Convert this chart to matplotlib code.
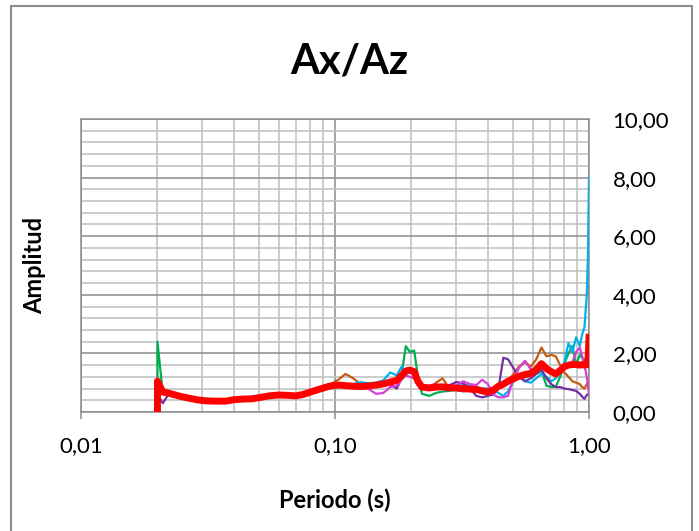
import matplotlib
matplotlib.use("Agg")
import matplotlib.pyplot as plt
import matplotlib.ticker as mticker
from matplotlib.patches import Rectangle

plt.rcParams["font.family"] = ["Lato", "DejaVu Sans"]

# periods (s) shared by all series; first point repeated for the spike at 0.02 s
periodo = [0.02, 0.02, 0.021, 0.022, 0.0235, 0.025, 0.027, 0.029, 0.031, 0.034,
           0.037, 0.040, 0.043, 0.047, 0.051, 0.055, 0.060, 0.065, 0.070, 0.075,
           0.080, 0.087, 0.095, 0.103, 0.110, 0.118, 0.126, 0.135, 0.145, 0.155,
           0.165, 0.175, 0.183, 0.190, 0.197, 0.205, 0.212, 0.22, 0.235, 0.25,
           0.265, 0.28, 0.30, 0.32, 0.34, 0.36, 0.38, 0.40, 0.42, 0.44,
           0.46, 0.48, 0.50, 0.53, 0.56, 0.59, 0.62, 0.65, 0.68, 0.71,
           0.74, 0.77, 0.80, 0.83, 0.86, 0.89, 0.92, 0.94, 0.96, 0.98,
           0.99, 1.0]

verde = [0.30, 2.40, 0.62, 0.60, 0.55, 0.50, 0.44, 0.40, 0.36, 0.34,
         0.33, 0.40, 0.40, 0.42, 0.48, 0.50, 0.55, 0.52, 0.50, 0.62,
         0.72, 0.80, 0.86, 0.88, 0.87, 0.85, 0.86, 0.88, 0.90, 0.95,
         1.00, 1.05, 1.30, 2.25, 2.05, 2.10, 1.20, 0.62, 0.55, 0.65,
         0.70, 0.72, 0.75, 0.70, 0.75, 0.72, 0.70, 0.75, 0.72, 0.80,
         0.95, 1.05, 1.15, 1.20, 1.18, 1.25, 1.30, 1.40, 0.90, 0.85,
         0.86, 1.20, 1.65, 2.00, 2.25, 1.60, 1.95, 1.85, 1.70, 2.00,
         1.90, 1.85]

naranja = [0.55, 0.70, 0.72, 0.68, 0.60, 0.53, 0.47, 0.42, 0.39, 0.38,
           0.38, 0.43, 0.45, 0.47, 0.52, 0.56, 0.60, 0.58, 0.57, 0.62,
           0.70, 0.80, 0.92, 1.10, 1.30, 1.15, 0.95, 0.90, 0.93, 0.97,
           1.03, 1.08, 1.22, 1.38, 1.40, 1.35, 1.02, 0.86, 0.84, 1.00,
           1.15, 0.85, 0.84, 0.82, 0.80, 0.79, 0.74, 0.70, 0.76, 0.85,
           0.95, 1.10, 1.25, 1.55, 1.70, 1.55, 1.80, 2.20, 1.90, 1.95,
           1.90, 1.60, 1.35, 1.20, 1.05, 1.00, 0.95, 0.85, 0.80, 0.95,
           0.95, 1.00]

celeste = [0.60, 0.75, 0.78, 0.72, 0.62, 0.55, 0.48, 0.42, 0.38, 0.37,
           0.38, 0.46, 0.48, 0.52, 0.55, 0.62, 0.63, 0.60, 0.58, 0.65,
           0.72, 0.82, 0.95, 0.96, 0.92, 0.95, 1.02, 0.98, 1.00, 1.08,
           1.35, 1.25, 1.55, 1.30, 1.35, 1.30, 0.95, 0.85, 0.82, 0.88,
           0.92, 0.90, 0.88, 0.92, 0.90, 0.85, 0.80, 0.80, 0.78, 0.65,
           0.55, 0.70, 1.00, 1.20, 1.05, 1.00, 1.15, 1.30, 1.20, 1.05,
           1.15, 1.35, 1.70, 2.35, 2.05, 2.55, 2.25, 2.65, 2.90, 4.00,
           5.30, 8.00]

morado = [0.40, 0.60, 0.30, 0.58, 0.53, 0.47, 0.42, 0.37, 0.34, 0.33,
          0.34, 0.38, 0.41, 0.42, 0.46, 0.52, 0.55, 0.53, 0.51, 0.56,
          0.64, 0.74, 0.84, 0.88, 0.86, 0.84, 0.83, 0.85, 0.87, 0.90,
          0.95, 0.80, 1.15, 1.35, 1.38, 1.30, 0.98, 0.80, 0.78, 0.82,
          0.84, 0.90, 1.02, 0.98, 0.80, 0.55, 0.50, 0.55, 0.60, 0.80,
          1.85, 1.80, 1.55, 1.20, 1.05, 1.15, 1.30, 1.45, 1.15, 0.95,
          0.85, 0.85, 0.80, 0.78, 0.75, 0.72, 0.62, 0.52, 0.45, 0.58,
          0.60, 0.62]

magenta = [0.45, 0.65, 0.62, 0.60, 0.54, 0.48, 0.42, 0.38, 0.35, 0.34,
           0.35, 0.40, 0.42, 0.44, 0.48, 0.53, 0.56, 0.54, 0.52, 0.57,
           0.65, 0.75, 0.85, 0.90, 0.88, 0.85, 0.84, 0.80, 0.62, 0.65,
           0.85, 0.90, 1.10, 1.25, 1.20, 1.15, 0.90, 0.85, 0.90, 0.95,
           0.85, 0.82, 0.90, 1.05, 0.95, 0.92, 1.10, 0.95, 0.60, 0.50,
           0.50, 0.55, 1.05, 1.50, 1.75, 1.45, 1.35, 1.50, 1.40, 1.30,
           1.35, 1.40, 1.50, 1.60, 1.70, 2.05, 2.20, 1.90, 1.60, 1.20,
           0.90, 0.62]

promedio = [0.05, 1.05, 0.68, 0.65, 0.58, 0.52, 0.46, 0.41, 0.38, 0.37,
            0.37, 0.42, 0.44, 0.45, 0.50, 0.55, 0.58, 0.57, 0.55, 0.60,
            0.68, 0.78, 0.88, 0.92, 0.90, 0.88, 0.87, 0.89, 0.92, 0.96,
            1.02, 1.08, 1.25, 1.40, 1.43, 1.38, 1.05, 0.85, 0.82, 0.85,
            0.86, 0.83, 0.82, 0.80, 0.78, 0.77, 0.72, 0.68, 0.75, 0.88,
            0.95, 1.05, 1.12, 1.22, 1.28, 1.32, 1.45, 1.65, 1.48, 1.38,
            1.30, 1.42, 1.55, 1.60, 1.62, 1.62, 1.60, 1.62, 1.60, 1.62,
            1.62, 2.55]

series = [
    (verde, "#00B050"),
    (naranja, "#C55A11"),
    (celeste, "#00B0F0"),
    (morado, "#7030A0"),
    (magenta, "#D63FD6"),
]

fig = plt.figure(figsize=(6.99, 5.31), dpi=100)
ax = fig.add_axes([81 / 699, 1 - 412 / 531, 508 / 699, 293 / 531])

for vals, col in series:
    ax.plot(periodo, vals, color=col, lw=1.6, zorder=3)
ax.plot(periodo, promedio, color="#FF0000", lw=5, zorder=4,
        solid_joinstyle="round")

ax.set_xscale("log")
ax.set_xlim(0.01, 1.0)
ax.set_ylim(0, 10)

ax.xaxis.set_major_locator(mticker.FixedLocator([0.01, 0.1, 1.0]))
ax.xaxis.set_major_formatter(mticker.FixedFormatter(["0,01", "0,10", "1,00"]))
ax.xaxis.set_minor_locator(mticker.LogLocator(base=10, subs=range(2, 10)))
ax.xaxis.set_minor_formatter(mticker.NullFormatter())
ax.yaxis.set_major_locator(mticker.MultipleLocator(2))
ax.yaxis.set_minor_locator(mticker.MultipleLocator(0.4))
ax.yaxis.set_major_formatter(mticker.FuncFormatter(
    lambda v, p: f"{v:.2f}".replace(".", ",")))
ax.yaxis.tick_right()

ax.grid(which="major", color="#8C8C8C", lw=1.1, zorder=1)
ax.grid(which="minor", color="#BFBFBF", lw=1.1, zorder=1)
ax.set_axisbelow(True)
for s in ax.spines.values():
    s.set_color("#8C8C8C")
    s.set_linewidth(1.1)

ax.tick_params(axis="x", which="major", direction="out", length=5,
               width=1.1, color="#8C8C8C", labelsize=16, pad=12)
ax.tick_params(axis="x", which="minor", length=0)
ax.tick_params(axis="y", which="both", length=0, labelsize=16, pad=17,
               labelright=True, labelleft=False)

fig.text(349 / 699, 1 - 62 / 531, "Ax/Az", ha="center", va="center",
         fontsize=30, fontweight="bold")
fig.text(35 / 699, 1 - 265 / 531, "Amplitud", ha="center", va="center",
         rotation=90, fontsize=17, fontweight="bold")
fig.text(335 / 699, 1 - 500 / 531, "Periodo (s)", ha="center", va="center",
         fontsize=17, fontweight="bold")

fig.patches.append(Rectangle((11 / 699, -0.05), 681 / 699, 1 - 6 / 531 + 0.05,
                             transform=fig.transFigure, fill=False,
                             edgecolor="#8C8C8C", lw=1.5))

fig.savefig("out.png", dpi=100)
